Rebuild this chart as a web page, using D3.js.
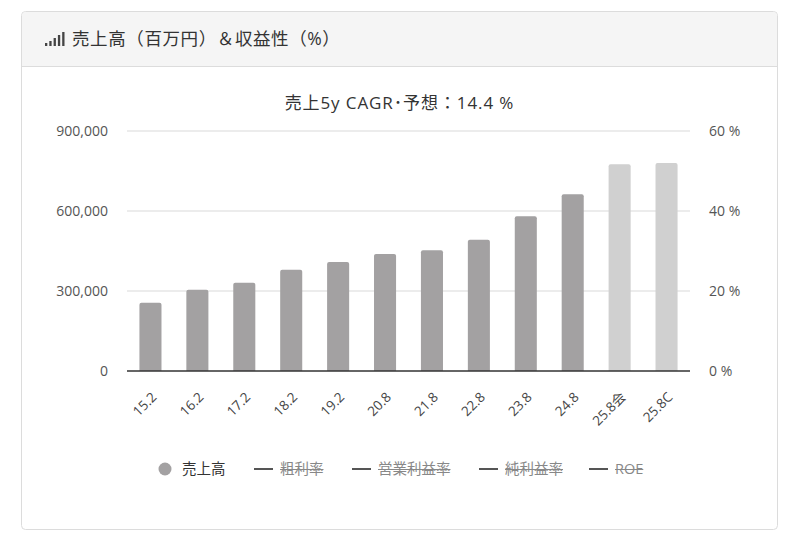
<!DOCTYPE html>
<html>
<head>
<meta charset="utf-8">
<script src="https://cdn.jsdelivr.net/npm/d3@7"></script>
<style>
  body { margin: 0; background: #fff; }
  svg { display: block; font-family: "Open Sans", "Noto Sans CJK JP", sans-serif; }
</style>
</head>
<body>
<script>
// data
const periods = ["15.2", "16.2", "17.2", "18.2", "19.2", "20.8", "21.8", "22.8", "23.8", "24.8", "25.8会", "25.8C"];
const sales = [256000, 305000, 331000, 380000, 409000, 439000, 452500, 492500, 580000, 662500, 775000, 780000];
const forecast = [false, false, false, false, false, false, false, false, false, false, true, true];
const leftTicks = [0, 300000, 600000, 900000];
const rightTicks = [0, 20, 40, 60];
const legendItems = [
  { name: "売上高", type: "circle", hidden: false },
  { name: "粗利率", type: "line", hidden: true },
  { name: "営業利益率", type: "line", hidden: true },
  { name: "純利益率", type: "line", hidden: true },
  { name: "ROE", type: "line", hidden: true }
];
const legendX = [165, 254, 352, 479, 589];
const cardTitle = "売上高（百万円）＆収益性（%）";
const chartTitle = "売上5y CAGR･予想：14.4 %";

const W = 786, H = 539;
const FONT = "'Open Sans', 'Noto Sans CJK JP', sans-serif";
const svg = d3.select(document.body).append("svg")
  .attr("width", W).attr("height", H);

// card
svg.append("rect")
  .attr("x", 21.5).attr("y", 11.5).attr("width", 756).attr("height", 518)
  .attr("rx", 4).attr("fill", "#fff").attr("stroke", "#dcdcdc");
svg.append("path")
  .attr("d", "M22,66 V16 Q22,12 26,12 H773 Q777,12 777,16 V66 Z")
  .attr("fill", "#f5f5f5");
svg.append("line")
  .attr("x1", 22).attr("x2", 777).attr("y1", 66.5).attr("y2", 66.5)
  .attr("stroke", "#dcdcdc");

// signal icon
const iconH = [3, 5, 8, 11, 14];
svg.append("g").selectAll("rect").data(iconH).join("rect")
  .attr("x", (d, i) => 45 + i * 4.3)
  .attr("y", d => 46 - d)
  .attr("width", 2.3)
  .attr("height", d => d)
  .attr("fill", "#444");

svg.append("text")
  .attr("x", 72).attr("y", 45)
  .attr("font-size", 17.5).attr("fill", "#333")
  .attr("letter-spacing", 0.6)
  .text(cardTitle);

svg.append("text")
  .attr("x", 399.5).attr("y", 109)
  .attr("text-anchor", "middle")
  .attr("font-size", 17).attr("fill", "#333")
  .attr("letter-spacing", 0.9)
  .text(chartTitle);

// scales
const x = d3.scaleBand().domain(periods).range([127, 690])
  .paddingInner(0.53).paddingOuter(0.265);
const y = d3.scaleLinear().domain([0, 900000]).range([371, 131]);
const yR = d3.scaleLinear().domain([0, 60]).range([371, 131]);

// grid
svg.append("g").selectAll("line").data(leftTicks.filter(d => d > 0)).join("line")
  .attr("x1", 127).attr("x2", 690)
  .attr("y1", d => y(d)).attr("y2", d => y(d))
  .attr("stroke", "#e6e6e6").attr("stroke-width", 1.5);

// left axis
const gl = svg.append("g").attr("transform", "translate(117,0)")
  .call(d3.axisLeft(y).tickValues(leftTicks).tickSize(0).tickPadding(9)
    .tickFormat(d3.format(",")));
gl.select(".domain").remove();
gl.selectAll("text").attr("font-size", 14).attr("fill", "#555")
  .attr("font-family", FONT);

// right axis
const gr = svg.append("g").attr("transform", "translate(700,0)")
  .call(d3.axisRight(yR).tickValues(rightTicks).tickSize(0).tickPadding(9)
    .tickFormat(d => d + " %"));
gr.select(".domain").remove();
gr.selectAll("text").attr("font-size", 14).attr("fill", "#555")
  .attr("font-family", FONT);

// bars with rounded tops
const r = 2;
svg.append("g").selectAll("path").data(sales).join("path")
  .attr("d", (d, i) => {
    const x0 = x(periods[i]), w = x.bandwidth(), y0 = y(d), yb = y(0);
    return `M${x0},${yb} V${y0 + r} Q${x0},${y0} ${x0 + r},${y0} H${x0 + w - r} Q${x0 + w},${y0} ${x0 + w},${y0 + r} V${yb} Z`;
  })
  .attr("fill", (d, i) => forecast[i] ? "#d0d0d0" : "#a3a1a2");

// x axis
const gx = svg.append("g").attr("transform", `translate(0,${y(0)})`)
  .call(d3.axisBottom(x).tickSize(0).tickPadding(0));
gx.select(".domain").attr("stroke", "#333").attr("stroke-width", 1.5)
  .attr("d", "M127,0H690");
gx.selectAll("text")
  .attr("font-size", 13.5).attr("fill", "#444")
  .attr("font-family", FONT)
  .attr("text-anchor", "end")
  .attr("dy", null).attr("y", 0)
  .attr("transform", "translate(7,27) rotate(-45)");

// legend
const lg = svg.append("g").attr("transform", "translate(0,469)");
legendItems.forEach((it, i) => {
  const g = lg.append("g").attr("transform", `translate(${legendX[i]},0)`);
  let tx;
  if (it.type === "circle") {
    g.append("circle").attr("r", 6.5).attr("fill", "#a3a1a2");
    tx = 17;
  } else {
    g.append("line").attr("x1", 0).attr("x2", 19).attr("y1", 0).attr("y2", 0)
      .attr("stroke", "#555").attr("stroke-width", 2);
    tx = 26;
  }
  const t = g.append("text").attr("x", tx).attr("y", 5)
    .attr("font-size", 14.5)
    .attr("fill", it.hidden ? "#888" : "#333")
    .text(it.name);
  if (it.hidden) {
    const bb = t.node().getBBox();
    g.append("line").attr("x1", bb.x).attr("x2", bb.x + bb.width)
      .attr("y1", 0.5).attr("y2", 0.5)
      .attr("stroke", "#888").attr("stroke-width", 1);
  }
});
</script>
</body>
</html>
